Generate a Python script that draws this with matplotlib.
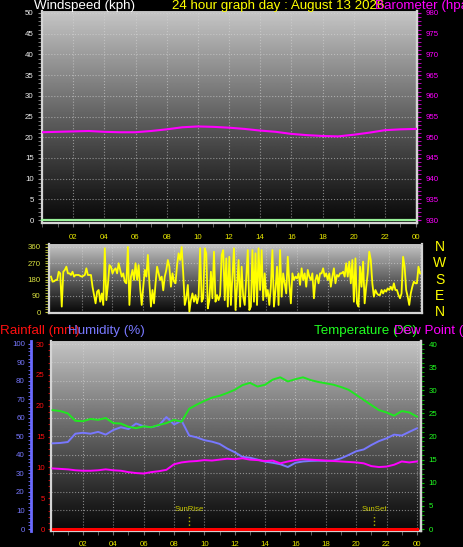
import numpy as np
import matplotlib
matplotlib.use('Agg')
import matplotlib.pyplot as plt
from matplotlib.ticker import MultipleLocator
import matplotlib.transforms as mtransforms

plt.rcParams['font.family'] = ['Liberation Sans', 'DejaVu Sans']

###########################################################################
# data
baro_hours = np.arange(0, 25, 1)
barometer = [951.2, 951.3, 951.4, 951.5, 951.3, 951.2, 951.2, 951.5, 951.9, 952.4,
             952.6, 952.5, 952.3, 952.0, 951.6, 951.3, 950.8, 950.5, 950.3, 950.2,
             950.6, 951.1, 951.7, 951.9, 952.0]
windspeed = [0.0] * 25

# wind direction, sampled every 6 minutes
wind_dir = [196, 168, 170, 177, 177, 223, 214, 30, 223, 233,
            251, 214, 214, 205, 223, 196, 205, 205, 205, 200,
            196, 200, 205, 242, 205, 205, 205, 140, 94, 48,
            113, 122, 57, 103, 39, 353, 66, 150, 260, 251,
            214, 233, 242, 214, 270, 233, 196, 214, 168, 159,
            360, 39, 196, 233, 177, 270, 177, 260, 131, 39,
            140, 233, 196, 316, 159, 30, 122, 48, 159, 251,
            214, 177, 196, 120, 196, 233, 288, 251, 140, 214,
            170, 159, 260, 325, 288, 360, 214, 39, 76, 150,
            2, 66, 103, 57, 94, 48, 85, 353, 57, 76,
            353, 325, 20, 66, 223, 76, 334, 57, 94, 66,
            94, 316, 343, 66, 297, 30, 306, 39, 196, 353,
            11, 140, 288, 30, 251, 85, 39, 196, 343, 11,
            30, 343, 57, 325, 39, 353, 122, 343, 66, 214,
            85, 122, 39, 140, 343, 30, 122, 251, 39, 343,
            85, 214, 159, 103, 306, 159, 48, 214, 177, 196,
            186, 214, 150, 242, 177, 214, 140, 233, 196, 177,
            214, 76, 177, 205, 159, 214, 214, 242, 196, 214,
            177, 214, 140, 196, 242, 159, 205, 196, 214, 214,
            223, 196, 270, 196, 279, 159, 288, 57, 297, 48,
            30, 251, 140, 279, 48, 140, 214, 334, 288, 159,
            85, 122, 103, 94, 94, 122, 103, 122, 113, 131,
            122, 140, 122, 159, 122, 122, 94, 76, 103, 306,
            251, 122, 85, 39, 103, 140, 168, 159, 159, 251,
            214]
dir_hours = np.linspace(0, 24, len(wind_dir))

hours = np.arange(0, 24.5, 0.5)
temperature = [25.7, 25.5, 25.0, 23.4, 23.3, 23.8, 23.6, 24.0, 22.9, 22.8,
               22.1, 21.8, 22.2, 22.0, 22.5, 22.9, 23.6, 23.2, 26.0, 26.9,
               27.7, 28.4, 28.8, 29.4, 30.1, 31.1, 31.6, 30.8, 31.2, 32.3,
               32.8, 31.9, 32.4, 32.8, 32.2, 31.8, 31.5, 31.2, 30.7, 30.1,
               29.0, 27.9, 26.8, 25.7, 25.2, 24.5, 25.5, 25.2, 24.3]
humidity = [46.3, 46.5, 47.0, 51.5, 52.0, 51.5, 52.5, 51.0, 53.5, 55.0,
            54.0, 57.0, 55.5, 55.0, 56.0, 60.5, 56.5, 58.5, 50.5, 49.5,
            48.0, 47.2, 46.0, 43.5, 41.5, 39.0, 38.5, 37.5, 36.4, 35.8,
            35.0, 33.5, 35.8, 36.5, 36.8, 36.9, 36.8, 37.0, 38.2, 40.0,
            42.0, 43.0, 45.4, 47.5, 49.0, 51.0, 50.5, 52.5, 54.4]
dew_point = [13.1, 13.0, 12.9, 12.7, 12.6, 12.6, 12.7, 12.9, 12.7, 12.6,
             12.3, 12.1, 12.0, 12.3, 12.5, 12.8, 14.0, 14.4, 14.6, 14.7,
             14.9, 14.8, 15.0, 15.2, 15.1, 15.3, 15.0, 14.9, 14.7, 14.8,
             14.2, 14.6, 14.9, 15.1, 15.0, 14.9, 14.8, 14.7, 14.6, 14.5,
             14.4, 14.2, 13.6, 13.4, 13.5, 13.9, 14.6, 14.4, 14.6]
rainfall = [0.0] * 49

sunrise_hour = 9.0
sunset_hour = 21.2

tick_hours = list(range(2, 25, 2))
tick_labels = ['02', '04', '06', '08', '10', '12', '14', '16', '18', '20', '22', '00']
dir_ticks = [0, 90, 180, 270, 360]
compass = ['N', 'E', 'S', 'W', 'N']

###########################################################################
W, H = 464, 547
fig = plt.figure(figsize=(W / 100, H / 100), dpi=100, facecolor='black')


def px_box(x0, y0, x1, y1):
    return [x0 / W, 1 - y1 / H, (x1 - x0) / W, (y1 - y0) / H]


def background(ax, xlim, ylim):
    grad = (np.linspace(0, 1, 256) ** 1.1 * 0.74 + 0.035).reshape(-1, 1)
    ax.imshow(grad, extent=[xlim[0], xlim[1], ylim[0], ylim[1]], origin='lower',
              aspect='auto', cmap='gray', vmin=0, vmax=1, zorder=0)
    ax.set_xlim(xlim)
    ax.set_ylim(ylim)
    ax.set_facecolor('black')


def style_spines(ax, color='#d4d4d4'):
    for side in ['left', 'right', 'bottom']:
        ax.spines[side].set_color(color)
        ax.spines[side].set_linewidth(1.6)
    ax.spines['top'].set_color('#bdbdbd')
    ax.spines['top'].set_linewidth(0.6)


FS = 5.7
grid_kw = dict(ls=':', color='#d8d8d8', lw=0.8, alpha=0.55)

###########################################################################
# Panel 1: windspeed + barometer
ax1 = fig.add_axes(px_box(42, 11, 417, 223))
background(ax1, (0, 24.06), (-0.72, 50.48))
ax1.plot(baro_hours, windspeed, color='#98f098', lw=1.6, zorder=3, clip_on=False)
ax1.set_xticks(tick_hours, tick_labels)
ax1.xaxis.set_minor_locator(MultipleLocator(1))
ax1.set_yticks(range(0, 51, 5))
ax1.yaxis.set_minor_locator(MultipleLocator(1))
ax1.tick_params(axis='x', which='both', colors='#707070', labelcolor='#e8e800',
                labelsize=FS, length=3, pad=5)
ax1.tick_params(axis='y', which='both', colors='#8a8a8a', labelcolor='#f0f0f0',
                labelsize=FS, length=3, pad=3)
ax1.grid(True, which='major', **grid_kw)
style_spines(ax1)

ax1b = ax1.twinx()
ax1b.set_ylim(929.28, 980.48)
ax1b.plot(baro_hours, barometer, color='#ff00ff', lw=1.5, zorder=3)
ax1b.set_yticks(range(930, 981, 5))
ax1b.yaxis.set_minor_locator(MultipleLocator(1))
ax1b.tick_params(axis='y', which='both', colors='#d000d0', labelcolor='#ff00ff',
                 labelsize=FS, length=3, pad=3)
for side in ['left', 'top', 'bottom']:
    ax1b.spines[side].set_visible(False)
ax1b.spines['right'].set_color('#d4d4d4')
ax1b.spines['right'].set_linewidth(1.6)

###########################################################################
# Panel 2: wind direction
ax2 = fig.add_axes(px_box(49, 244, 422, 313))
background(ax2, (-0.13, 24.13), (-5.5, 376.6))
ax2.plot(dir_hours, wind_dir, color='#ffff00', lw=1.3, zorder=3)
ax2.set_yticks(dir_ticks)
ax2.yaxis.set_minor_locator(MultipleLocator(15))
ax2.set_xticks(tick_hours)
ax2.tick_params(axis='x', which='both', length=0, labelbottom=False)
ax2.tick_params(axis='y', which='both', colors='#b8c030', labelcolor='#d8e040',
                labelsize=FS, length=3, pad=3)
ax2.grid(True, which='major', **grid_kw)
style_spines(ax2)
trans = mtransforms.blended_transform_factory(ax2.transAxes, ax2.transData)
for deg, letter in zip(dir_ticks, compass):
    ax2.text(1.048, deg, letter, transform=trans, color='#ffff00', fontsize=10,
             ha='center', va='center')

###########################################################################
# Panel 3: rain, humidity, temperature, dew point
ax3 = fig.add_axes(px_box(51, 341, 421, 531))
background(ax3, (-0.105, 24.27), (-0.32, 30.49))
ax3.set_xticks(tick_hours, tick_labels)
ax3.xaxis.set_minor_locator(MultipleLocator(1))
ax3.set_yticks(range(0, 31, 5))
ax3.yaxis.set_minor_locator(MultipleLocator(1))
ax3.tick_params(axis='x', which='both', colors='#707070', labelcolor='#e8e800',
                labelsize=FS, length=3, pad=4)
ax3.tick_params(axis='y', which='both', colors='#e00000', labelcolor='#ff1010',
                labelsize=FS, length=2.5, pad=2)
ax3.grid(True, axis='x', which='major', **grid_kw)
style_spines(ax3)

ax3h = ax3.twinx()
ax3h.set_ylim(-1.08, 101.6)
ax3h.yaxis.set_ticks_position('left')
ax3h.yaxis.set_label_position('left')
ax3h.spines['left'].set_position(('outward', 14.4))
ax3h.spines['left'].set_visible(True)
ax3h.spines['left'].set_color('#6a6aff')
ax3h.spines['left'].set_linewidth(2)
for side in ['right', 'top', 'bottom']:
    ax3h.spines[side].set_visible(False)
ax3h.set_yticks(range(0, 101, 10))
ax3h.yaxis.set_minor_locator(MultipleLocator(2))
ax3h.tick_params(axis='y', which='both', colors='#6a6aff', labelcolor='#7878ff',
                 labelsize=FS, length=2.5, pad=2)
ax3h.grid(True, axis='y', which='major', **grid_kw)
ax3h.plot(hours, humidity, color='#7878ff', lw=1.4, zorder=3)

ax3t = ax3.twinx()
ax3t.set_ylim(-0.43, 40.65)
ax3t.set_yticks(range(0, 41, 5))
ax3t.yaxis.set_minor_locator(MultipleLocator(1))
ax3t.tick_params(axis='y', which='both', colors='#00c000', labelcolor='#20ff20',
                 labelsize=FS, length=2.5, pad=3)
for side in ['left', 'top', 'bottom']:
    ax3t.spines[side].set_visible(False)
ax3t.spines['right'].set_color('#d4d4d4')
ax3t.spines['right'].set_linewidth(1.6)
ax3t.plot(hours, temperature, color='#20e820', lw=1.4, zorder=3)
ax3t.plot(hours, dew_point, color='#ff00ff', lw=1.4, zorder=3)

# rain on top of everything
ax3t.plot(hours, np.array(rainfall) * 40.65 / 30.49, color='#ff0000', lw=2.2,
          zorder=4, clip_on=False)

for hr, name in [(sunrise_hour, 'SunRise'), (sunset_hour, 'SunSet')]:
    ax3.vlines(hr, 0, 2.5, colors='#b8b800', linestyles=':', lw=1, zorder=3)
    ax3.text(hr, 2.6, name, color='#c8c800', fontsize=5.6, ha='center',
             va='bottom', zorder=3)

###########################################################################
# headers
def header(x, y, s, color):
    fig.text(x / W, 1 - y / H, s, color=color, fontsize=9.6, va='baseline', ha='left')


header(34, 9.5, 'Windspeed (kph)', '#ffffff')
header(172, 9.5, '24 hour graph day : August 13 2026', '#ffff00')
header(375, 9.5, 'Barometer (hpa)', '#ff00ff')
header(0, 334, 'Rainfall (mm)', '#ff1010')
header(68, 334, 'Humidity (%)', '#7878ff')
header(314, 334, 'Temperature (°C)', '#20ff20')
header(394, 334, 'Dew Point (°C)', '#ff00ff')

fig.savefig('out.png', dpi=100, facecolor='black')
